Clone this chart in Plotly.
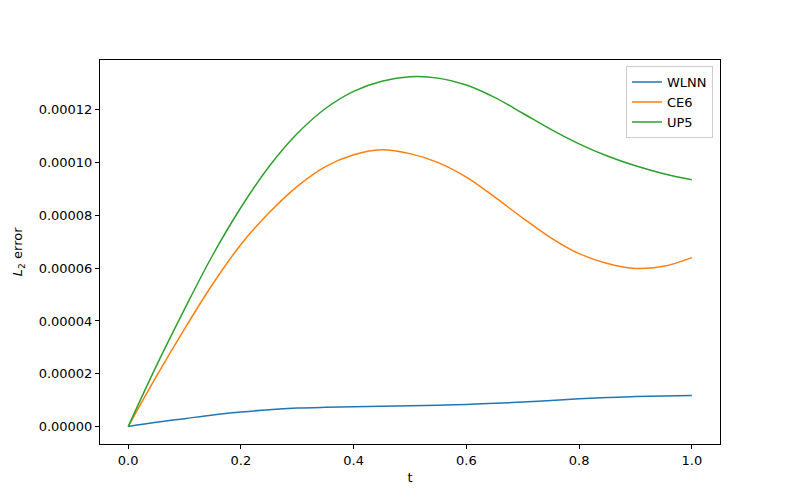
import plotly.graph_objects as go

t = [0.0, 0.05, 0.1, 0.15, 0.2, 0.25, 0.3, 0.35, 0.4, 0.45, 0.5,
     0.55, 0.6, 0.65, 0.7, 0.75, 0.8, 0.85, 0.9, 0.95, 1.0]

wlnn = [0.0, 1.6e-6, 3.0e-6, 4.4e-6, 5.5e-6, 6.4e-6, 7.0e-6, 7.3e-6, 7.5e-6, 7.7e-6, 7.9e-6,
        8.1e-6, 8.4e-6, 8.8e-6, 9.3e-6, 9.9e-6, 1.05e-5, 1.1e-5, 1.14e-5, 1.16e-5, 1.18e-5]

ce6 = [0.0, 1.9e-5, 3.7e-5, 5.4e-5, 6.9e-5, 8.1e-5, 9.1e-5, 9.85e-5, 1.03e-4, 1.049e-4, 1.034e-4,
       1.0e-4, 9.45e-5, 8.7e-5, 7.9e-5, 7.15e-5, 6.55e-5, 6.18e-5, 5.99e-5, 6.07e-5, 6.4e-5]

up5 = [0.0, 2.3e-5, 4.45e-5, 6.5e-5, 8.3e-5, 9.85e-5, 1.11e-4, 1.205e-4, 1.27e-4, 1.308e-4, 1.325e-4,
       1.32e-4, 1.294e-4, 1.247e-4, 1.187e-4, 1.126e-4, 1.071e-4, 1.025e-4, 9.88e-5, 9.58e-5, 9.35e-5]

series = [("WLNN", wlnn, "#1f77b4"), ("CE6", ce6, "#ff7f0e"), ("UP5", up5, "#2ca02c")]

x_ticks = [0.0, 0.2, 0.4, 0.6, 0.8, 1.0]
x_tick_labels = ["0.0", "0.2", "0.4", "0.6", "0.8", "1.0"]
y_ticks = [0.0, 0.00002, 0.00004, 0.00006, 0.00008, 0.0001, 0.00012]
y_tick_labels = ["0.00000", "0.00002", "0.00004", "0.00006", "0.00008", "0.00010", "0.00012"]

fig = go.Figure()
for name, vals, color in series:
    fig.add_trace(go.Scatter(x=t, y=vals, mode="lines", name=name,
                             line=dict(color=color, width=1.5, shape="spline", smoothing=1.0)))

font = dict(family="DejaVu Sans", size=13, color="black")
fig.update_layout(
    width=800, height=500,
    margin=dict(l=92, r=88, t=52, b=64, autoexpand=False),
    paper_bgcolor="white", plot_bgcolor="white",
    font=font,
    showlegend=True,
    legend=dict(x=0.9887, y=0.984, xanchor="right", yanchor="top",
                bordercolor="#cccccc", borderwidth=1, bgcolor="rgba(255,255,255,0.8)",
                font=dict(family="DejaVu Sans", size=13, color="black"),
                tracegroupgap=2),
    annotations=[dict(text="<i>L</i><sub>2</sub> error", xref="paper", yref="paper",
                      x=-0.132, y=0.5, xanchor="center", yanchor="middle",
                      textangle=-90, showarrow=False,
                      font=dict(family="DejaVu Sans", size=13, color="black"))],
)
fig.update_xaxes(range=[-0.05, 1.05], tickvals=x_ticks, ticktext=x_tick_labels,
                 ticks="outside", ticklen=4, tickcolor="black", showgrid=False, zeroline=False,
                 showline=True, linecolor="black", linewidth=1, mirror=True, automargin=False,
                 title=dict(text="t", standoff=6, font=dict(family="DejaVu Sans", size=13)))
fig.update_yaxes(range=[-6.6e-6, 1.3887e-4], tickvals=y_ticks, ticktext=y_tick_labels,
                 ticks="outside", ticklen=4, tickcolor="black", showgrid=False, zeroline=False,
                 showline=True, linecolor="black", linewidth=1, mirror=True, automargin=False)

fig.write_html("out.html")
